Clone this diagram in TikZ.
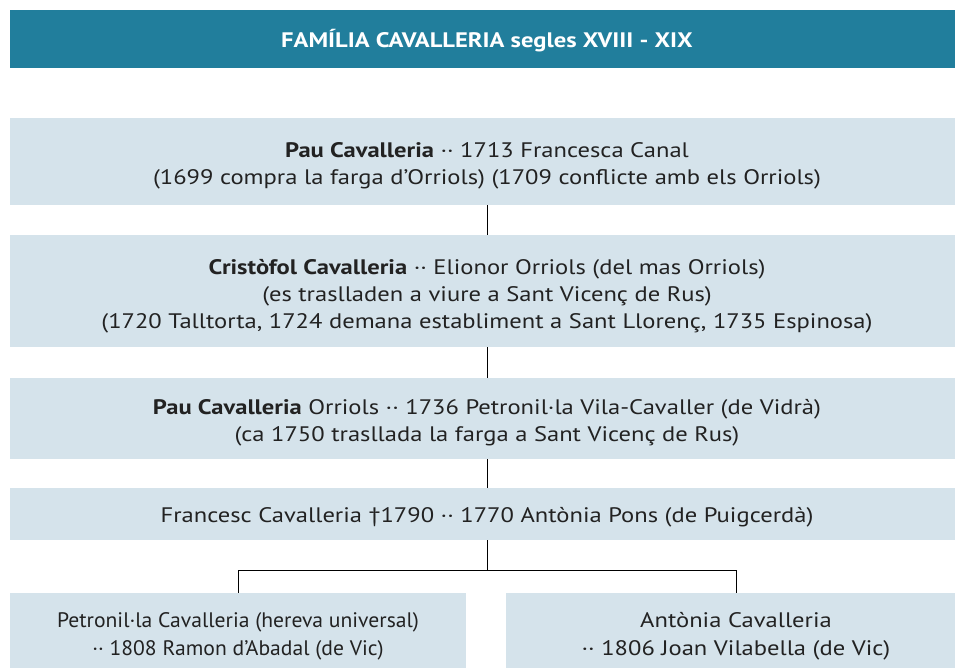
\documentclass[tikz,border=0pt]{standalone}
\usepackage{fontspec}
\setmainfont{PT Sans}[FakeStretch=1.17]
\newfontfamily\narrowfont{PT Sans}[FakeStretch=1.03]
\definecolor{headblue}{RGB}{33,126,156}
\definecolor{boxblue}{RGB}{213,227,235}
\definecolor{txt}{RGB}{34,34,34}
\begin{document}
\begin{tikzpicture}[x=1pt,y=-1pt,
  box/.style={fill=boxblue,draw=none,inner sep=0pt},
  head/.style={fill=headblue,draw=none,inner sep=0pt},
  lbl/.style={inner sep=0pt,align=center,text=txt,font=\fontsize{21}{27}\selectfont},
  hlbl/.style={inner sep=0pt,align=center,text=white,font=\fontsize{21}{25}\selectfont\bfseries},
  link/.style={draw=black,line width=0.8pt}]
\useasboundingbox (0,0) rectangle (955,668);
\clip (0,0) rectangle (955,668);
% boxes
\node[head,minimum width=954pt,minimum height=58pt] (h) at (487,39) {};
\node[box,minimum width=954pt,minimum height=87pt] (b1) at (487,161.5) {};
\node[box,minimum width=954pt,minimum height=112pt] (b2) at (487,291) {};
\node[box,minimum width=954pt,minimum height=81pt] (b3) at (487,418.5) {};
\node[box,minimum width=954pt,minimum height=52pt] (b4) at (487,514) {};
\node[box,minimum width=456pt,minimum height=83pt] (c1) at (238,634.5) {};
\node[box,minimum width=460pt,minimum height=83pt] (c2) at (736,634.5) {};
% texts
\node[hlbl,yshift=-1.5pt] (th) at (h.center) {FAMÍLIA CAVALLERIA segles XVIII - XIX};
\node[lbl,yshift=-4pt] (t1) at (b1.center)
  {\textbf{Pau Cavalleria} ·· 1713 Francesca Canal\\(1699 compra la farga d’Orriols) (1709 conflicte amb els Orriols)};
\node[lbl,yshift=-5pt] (t2) at (b2.center)
  {\textbf{Cristòfol Cavalleria} ·· Elionor Orriols (del mas Orriols)\\(es traslladen a viure a Sant Vicenç de Rus)\\(1720 Talltorta, 1724 demana establiment a Sant Llorenç, 1735 Espinosa)};
\node[lbl,yshift=-4pt] (t3) at (b3.center)
  {\textbf{Pau Cavalleria} Orriols ·· 1736 Petronil·la Vila-Cavaller (de Vidrà)\\(ca 1750 trasllada la farga a Sant Vicenç de Rus)};
\node[lbl,yshift=-3pt] (t4) at (b4.center)
  {Francesc Cavalleria †1790 ·· 1770 Antònia Pons (de Puigcerdà)};
\node[lbl,yshift=-2pt,font=\fontsize{21}{28}\narrowfont] (tc1) at (c1.center)
  {Petronil·la Cavalleria (hereva universal)\\·· 1808 Ramon d’Abadal (de Vic)};
\node[lbl,yshift=-2pt,font=\fontsize{21}{28}\selectfont] (tc2) at (c2.center)
  {Antònia Cavalleria\\·· 1806 Joan Vilabella (de Vic)};
% connectors
\draw[link] (b1.south) -- (b2.north);
\draw[link] (b2.south) -- (b3.north);
\draw[link] (b3.south) -- (b4.north);
\draw[link] (b4.south) -- ++(0,30) -| (c1.north);
\draw[link] (b4.south) -- ++(0,30) -| (c2.north);
\end{tikzpicture}
\end{document}
